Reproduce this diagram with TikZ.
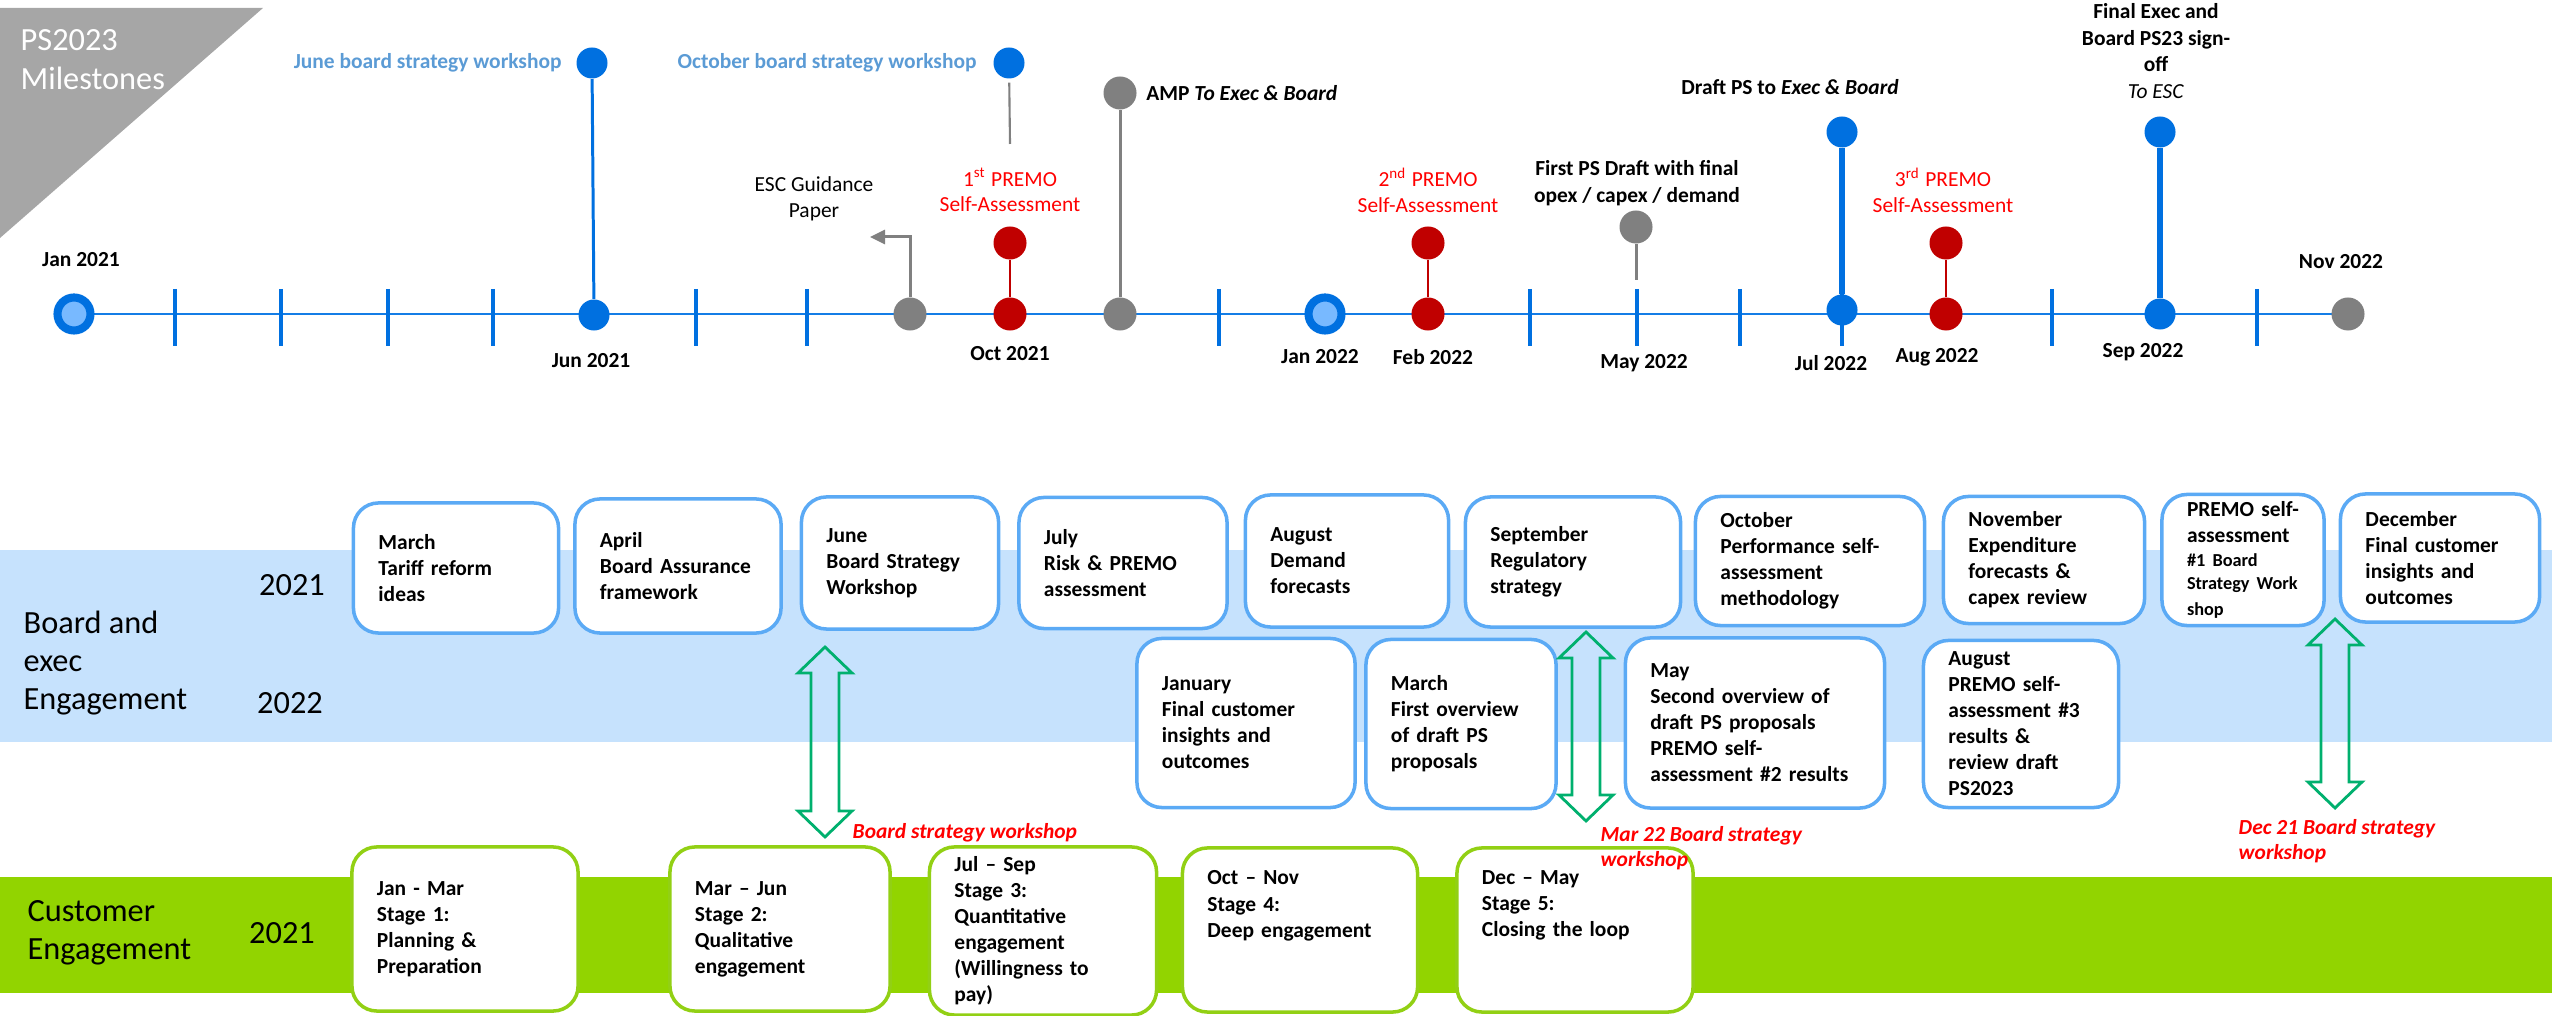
\documentclass[tikz,border=0pt]{standalone}
\usepackage{fontspec}
\setmainfont{Carlito}
\usepackage{xcolor}
\usetikzlibrary{positioning}
\usetikzlibrary{arrows.meta}
\usetikzlibrary{backgrounds}
\definecolor{bandblue}{RGB}{198,226,253}
\definecolor{bandgreen}{RGB}{146,212,0}
\definecolor{boxblue}{RGB}{91,170,245}
\definecolor{boxgreen}{RGB}{146,208,20}
\definecolor{dotblue}{RGB}{0,112,224}
\definecolor{dotlight}{RGB}{120,185,255}
\definecolor{dotred}{RGB}{192,0,0}
\definecolor{dotgray}{RGB}{128,128,128}
\definecolor{wsblue}{RGB}{91,155,213}
\definecolor{arrowgreen}{RGB}{0,176,110}
\definecolor{titlegray}{RGB}{166,166,166}
\definecolor{labred}{RGB}{255,0,0}
\definecolor{tlblue}{RGB}{20,125,230}
\tikzset{
	bebox/.style={draw=boxblue, line width=1pt, fill=white, rounded corners=0.25cm,
		inner xsep=0.25cm, inner ysep=0pt, align=left,
		font=\fontsize{6.1}{7.4}\selectfont\bfseries},
	cebox/.style={bebox, draw=boxgreen},
	msdot/.style={circle, inner sep=0pt, minimum size=0.33cm},
	bluedot/.style={msdot, fill=dotblue, minimum size=0.31cm},
	reddot/.style={msdot, fill=dotred},
	graydot/.style={msdot, fill=dotgray},
	ringdot/.style={msdot, draw=dotblue, line width=2.3pt, fill=dotlight},
	timeline/.style={draw=tlblue, line width=0.7pt},
	tickmark/.style={draw=dotblue, line width=0.9pt},
	blueline/.style={draw=dotblue, line width=0.85pt},
	thickblue/.style={draw=dotblue, line width=1.6pt},
	redline/.style={draw=dotred, line width=0.8pt},
	grayline/.style={draw=dotgray, line width=0.85pt},
	datelabel/.style={font=\fontsize{6.1}{7.4}\selectfont\bfseries, inner sep=0pt},
	mslabel/.style={font=\fontsize{6.1}{7.6}\selectfont\bfseries, align=center, inner sep=1pt},
	wslabel/.style={mslabel, text=wsblue},
	premolabel/.style={font=\fontsize{6.1}{7.2}\selectfont, text=labred, align=center, inner sep=0pt},
	redlabel/.style={font=\fontsize{6.1}{7.1}\selectfont\bfseries\itshape, text=labred, align=left, inner sep=0pt},
	bandtext/.style={font=\fontsize{9.2}{10.8}\selectfont, align=left, inner sep=0pt},
	wsline/.style={draw=arrowgreen, line width=0.8pt, line join=miter}
}
\newcommand{\boardarrow}[3]{%
	\draw[wsline] (#1,#2) -- ++(27,26) -- ++(-13,0) -- (#1+14,#3-26) -- ++(13,0)
		-- (#1,#3) -- ++(-27,-26) -- ++(13,0) -- (#1-14,#2+26) -- ++(-13,0) -- cycle;}

\begin{document}
\begin{tikzpicture}[x=0.01cm, y=-0.01cm]
	\useasboundingbox (0,0) rectangle (2552,1016);
	\fill[bandblue] (0,550) rectangle (2552,742);
	\fill[bandgreen] (0,877) rectangle (2552,993);
	\fill[titlegray] (0,8) -- (263,8) -- (0,238) -- cycle;
	\node[bandtext, text=white, font=\fontsize{9.2}{11.1}\selectfont, anchor=west] (title) at (20,60) {PS2023\\Milestones};

	\node[ringdot] (jan21) at (74,314) {};
	\node[bluedot] (jun21) at (594,315) {};
	\node[bluedot] (junW) at (592,63) {};
	\node[graydot] (esc) at (910,314) {};
	\node[reddot] (oct21) at (1010,314) {};
	\node[reddot] (oct21t) at (1010,243) {};
	\node[bluedot] (octW) at (1009,63) {};
	\node[graydot] (amp) at (1120,314) {};
	\node[graydot] (amptop) at (1120,93) {};
	\node[ringdot] (jan22) at (1325,314) {};
	\node[reddot] (feb22) at (1428,314) {};
	\node[reddot] (feb22t) at (1428,243) {};
	\node[graydot] (may22) at (1636,227) {};
	\node[bluedot] (jul22) at (1842,310) {};
	\node[bluedot] (jul22t) at (1842,132) {};
	\node[reddot] (aug22) at (1946,314) {};
	\node[reddot] (aug22t) at (1946,243) {};
	\node[bluedot] (sep22) at (2160,314) {};
	\node[bluedot] (sep22t) at (2160,132) {};
	\node[graydot] (nov22) at (2348,314) {};

	\begin{pgfonlayer}{background}
		\draw[timeline] (jan21.center) -- (nov22.center);
		\foreach \tx in {175,281,388,493,696,807,1219,1530,1637,1740,1842,2052,2257}
			\draw[tickmark] (\tx,289) -- (\tx,346);
	\end{pgfonlayer}

	\coordinate (octWend) at (1010,144);
	\coordinate (mayend) at (1636,280);
	\coordinate (esctip) at (870,237);
	\draw[blueline] (jun21) -- (junW);
	\draw[grayline, line width=0.6pt, shorten <=1pt] (octW) -- (octWend);
	\draw[grayline] (amp) -- (amptop);
	\draw[grayline] (may22) -- (mayend);
	\draw[grayline, -{Triangle[length=4.3pt,width=4pt]}] (esc) |- (esctip);
	\draw[redline] (oct21) -- (oct21t);
	\draw[redline] (feb22) -- (feb22t);
	\draw[redline] (aug22) -- (aug22t);
	\draw[thickblue] (jul22) -- (jul22t);
	\draw[thickblue] (sep22) -- (sep22t);

	\node[datelabel] (ljan21) at (81,260) {Jan 2021};
	\node[datelabel] (ljun21) at (591,361) {Jun 2021};
	\node[datelabel] (loct21) at (1010,354) {Oct 2021};
	\node[datelabel] (ljan22) at (1320,357) {Jan 2022};
	\node[datelabel] (lfeb22) at (1433,357) {Feb 2022};
	\node[datelabel] (lmay22) at (1644,363) {May 2022};
	\node[datelabel] (ljul22) at (1831,363) {Jul 2022};
	\node[datelabel] (laug22) at (1937,357) {Aug 2022};
	\node[datelabel] (lsep22) at (2143,352) {Sep 2022};
	\node[datelabel] (lnov22) at (2341,262) {Nov 2022};

	\node[wslabel, left=0.1cm of junW] (ljunW) {June board strategy workshop};
	\node[wslabel, left=0.12cm of octW] (loctW) {October board strategy workshop};
	\node[mslabel, right=0.05cm of amptop] (lamp) {AMP \textit{To Exec \& Board}};
	\node[mslabel, font=\fontsize{6.1}{7.4}\selectfont] (lesc) at (814,199) {ESC Guidance\\Paper};
	\node[premolabel] (loct21t) at (1010,190) {1\textsuperscript{st} PREMO\\Self-Assessment};
	\node[premolabel] (lfeb22t) at (1428,190) {2\textsuperscript{nd} PREMO\\Self-Assessment};
	\node[premolabel] (laug22t) at (1943,190) {3\textsuperscript{rd} PREMO\\Self-Assessment};
	\node[mslabel] (lmay) at (1637,183) {First PS Draft with final\\opex / capex / demand};
	\node[mslabel] (ljul) at (1790,87) {Draft PS to \textit{Exec \& Board}};
	\node[mslabel] (lsep) at (2156,51) {Final Exec and\\Board PS23 sign-\\off\\\mdseries\textit{To ESC}};

	\node[bandtext, anchor=west] (betitle) at (23,663) {Board and\\exec\\Engagement};
	\node[bandtext] (be21) at (292,585) {2021};
	\node[bandtext] (be22) at (290,703) {2022};
	\node[bandtext, anchor=west] (cetitle) at (27,933) {Customer\\Engagement};
	\node[bandtext] (ce21) at (282,933) {2021};

	\node[bebox, text width=1.55cm, minimum height=1.30cm] (mar21) at (456,568) {March\\Tariff reform\\ideas};
	\node[bebox, text width=1.56cm, minimum height=1.34cm] (apr21) at (678,566) {April\\Board Assurance\\framework};
	\node[bebox, text width=1.47cm, minimum height=1.32cm] (june21) at (900,563) {June\\Board Strategy\\Workshop};
	\node[bebox, text width=1.58cm, minimum height=1.31cm] (jul21) at (1123,563) {July\\Risk \& PREMO\\assessment};
	\node[bebox, text width=1.53cm, minimum height=1.32cm] (aug21) at (1347,561) {August\\Demand\\forecasts};
	\node[bebox, text width=1.65cm, minimum height=1.30cm] (sep21) at (1573,562) {September\\Regulatory\\strategy};
	\node[bebox, text width=1.79cm, minimum height=1.29cm] (octb21) at (1810,561) {October\\Performance self-\\assessment\\methodology};
	\node[bebox, text width=1.51cm, minimum height=1.27cm] (nov21) at (2044,560) {November\\Expenditure\\forecasts \&\\capex review};
	\node[bebox, text width=1.12cm, minimum height=1.31cm] (premo21) at (2243,560) {PREMO self-\\assessment\\{\fontsize{5.2}{6.6}\selectfont \#1 Board\\Strategy Work\\shop}};
	\node[bebox, text width=1.49cm, minimum height=1.28cm] (dec21) at (2440,558) {December\\Final customer\\insights and\\outcomes};

	\node[bebox, text width=1.68cm, minimum height=1.69cm] (janb22) at (1246,723) {January\\Final customer\\insights and\\outcomes};
	\node[bebox, text width=1.40cm, minimum height=1.69cm] (marb22) at (1461,724) {March\\First overview\\of draft PS\\proposals};
	\node[bebox, text width=2.09cm, minimum height=1.70cm] (mayb22) at (1755,723) {May\\Second overview of\\draft PS proposals\\PREMO self-\\assessment \#2 results};
	\node[bebox, text width=1.45cm, minimum height=1.67cm] (augb22) at (2021,724) {August\\PREMO self-\\assessment \#3\\results \&\\review draft\\PS2023};

	\node[cebox, text width=1.76cm, minimum height=1.64cm] (stage1) at (465,929) {Jan - Mar\\Stage 1:\\Planning \&\\Preparation};
	\node[cebox, text width=1.70cm, minimum height=1.64cm] (stage2) at (780,929) {Mar -- Jun\\Stage 2:\\Qualitative\\engagement};
	\node[cebox, text width=1.77cm, minimum height=1.68cm] (stage3) at (1043,931) {Jul -- Sep\\Stage 3:\\Quantitative\\engagement\\(Willingness to\\pay)};
	\node[cebox, text width=1.85cm, minimum height=1.64cm] (stage4) at (1300,930) {Oct -- Nov\\Stage 4:\\Deep engagement\\~\\~};
	\node[cebox, text width=1.86cm, minimum height=1.64cm] (stage5) at (1575,930) {Dec -- May\\Stage 5:\\Closing the loop\\~\\~};

	\boardarrow{825}{647}{837}
	\boardarrow{1586}{632}{821}
	\boardarrow{2335}{619}{808}

	\node[redlabel, anchor=west] (ws21) at (852,833) {Board strategy workshop};
	\node[redlabel, anchor=west] (wsmar22) at (1600,848) {Mar 22 Board strategy\\workshop};
	\node[redlabel, anchor=west] (wsdec21) at (2238,841) {Dec 21 Board strategy\\workshop};
\end{tikzpicture}
\end{document}
